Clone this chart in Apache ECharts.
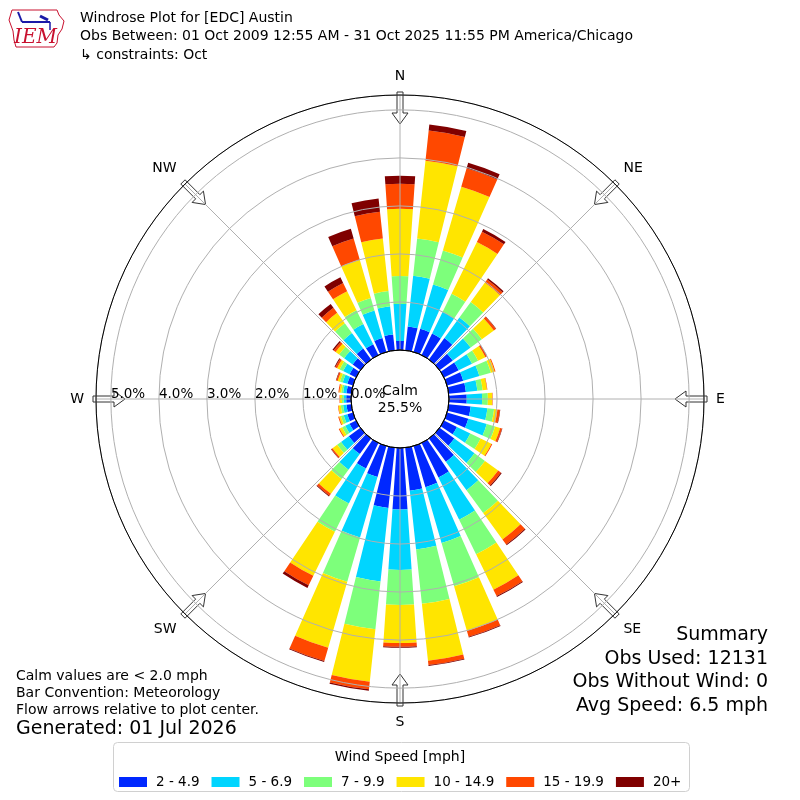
<!DOCTYPE html>
<html>
<head>
<meta charset="utf-8">
<script src="https://cdn.jsdelivr.net/npm/echarts@6/dist/echarts.min.js"></script>
<style>
  html, body { margin: 0; background: #fff; }
  #chart { width: 800px; height: 800px; }
</style>
</head>
<body>
<div id="chart"></div>
<script>
// Wind directions (deg, clockwise from north), 10 degree bins
const directions = [0, 10, 20, 30, 40, 50, 60, 70, 80, 90, 100, 110, 120, 130, 140, 150, 160, 170,
  180, 190, 200, 210, 220, 230, 240, 250, 260, 270, 280, 290, 300, 310, 320, 330, 340, 350];

const speedBins = ["2 - 4.9", "5 - 6.9", "7 - 9.9", "10 - 14.9", "15 - 19.9", "20+"];
const binColors = ["#0028ff", "#00d5ff", "#7dff7b", "#ffe500", "#ff4800", "#800000"];

// percent of observations per direction, one array per speed bin
const pct2to5 = [0.19, 0.50, 0.50, 0.50, 0.55, 0.34, 0.34, 0.35, 0.36, 0.37, 0.46, 0.46, 0.30, 0.38, 0.60, 0.80, 0.89, 0.90,
  1.28, 1.26, 0.67, 0.59, 0.40, 0.30, 0.15, 0.12, 0.10, 0.10, 0.10, 0.12, 0.15, 0.20, 0.28, 0.25, 0.30, 0.33];
const pct5to7 = [0.77, 1.06, 0.96, 0.50, 0.53, 0.46, 0.31, 0.35, 0.24, 0.32, 0.35, 0.40, 0.31, 0.52, 0.73, 0.98, 1.21, 1.23,
  1.26, 1.54, 1.31, 0.81, 0.40, 0.20, 0.10, 0.08, 0.07, 0.05, 0.07, 0.10, 0.15, 0.22, 0.40, 0.47, 0.60, 0.59];
const pct7to10 = [0.58, 0.78, 0.74, 0.42, 0.40, 0.29, 0.14, 0.25, 0.11, 0.12, 0.14, 0.18, 0.24, 0.27, 0.59, 0.80, 0.94, 1.14,
  0.73, 1.00, 0.96, 0.66, 0.24, 0.10, 0.07, 0.06, 0.05, 0.04, 0.04, 0.06, 0.08, 0.13, 0.25, 0.32, 0.27, 0.32];
const pct10to15 = [1.40, 1.63, 1.38, 1.20, 0.50, 0.31, 0.17, 0.08, 0.09, 0.09, 0.07, 0.11, 0.25, 0.34, 0.68, 0.82, 0.96, 1.19,
  0.79, 1.10, 1.43, 1.02, 0.38, 0.12, 0.06, 0.04, 0.05, 0.04, 0.04, 0.05, 0.06, 0.09, 0.27, 0.44, 0.83, 1.10];
const pct15to20 = [0.52, 0.63, 0.40, 0.24, 0.08, 0.05, 0.03, 0.02, 0.01, 0.01, 0.05, 0.04, 0.02, 0.07, 0.13, 0.15, 0.13, 0.09,
  0.08, 0.16, 0.29, 0.22, 0.05, 0.03, 0.02, 0.02, 0.01, 0.01, 0.02, 0.03, 0.04, 0.05, 0.13, 0.19, 0.46, 0.56];
const pct20up = [0.17, 0.13, 0.12, 0.06, 0.03, 0.01, 0.01, 0.00, 0.00, 0.00, 0.01, 0.01, 0.00, 0.02, 0.02, 0.02, 0.02, 0.02,
  0.02, 0.03, 0.02, 0.06, 0.02, 0.01, 0.00, 0.00, 0.00, 0.00, 0.00, 0.01, 0.02, 0.03, 0.10, 0.13, 0.21, 0.28];

// compass labels, clockwise starting from west (radius axis sits on the W spoke)
const compassLabels = ["W", "NW", "N", "NE", "E", "SE", "S", "SW"];
const radialMax = 5.31;

const titleLines = [
  "Windrose Plot for [EDC] Austin",
  "Obs Between: 01 Oct 2009 12:55 AM - 31 Oct 2025 11:55 PM America/Chicago",
  "\u21B3 constraints: Oct",
];
const noteLines = ["Calm values are < 2.0 mph", "Bar Convention: Meteorology", "Flow arrows relative to plot center."];
const summaryLines = ["Summary", "Obs Used: 12131", "Obs Without Wind: 0", "Avg Speed: 6.5 mph"];

const FONT = "DejaVu Sans";
const cx = 400, cy = 399, rIn = 49, rOut = 304;

const binData = [pct2to5, pct5to7, pct7to10, pct10to15, pct15to20, pct20up];

// hollow flow arrows on the outer ring, pointing at the centre
function arrowPoints(deg) {
  const a = deg * Math.PI / 180;
  const ux = Math.sin(a), uy = -Math.cos(a), vx = Math.cos(a), vy = Math.sin(a);
  const pts = [[307, -3], [286, -3], [286, -8], [275, 0], [286, 8], [286, 3], [307, 3]];
  return pts.map(([r, w]) => [cx + r * ux + w * vx, cy + r * uy + w * vy]);
}

const graphics = [];
[0, 45, 90, 135, 180, 225, 270, 315].forEach((d) => {
  graphics.push({ type: "polygon", z: 3, shape: { points: arrowPoints(d) },
    style: { fill: "#fff", stroke: "#333", lineWidth: 1 } });
});
graphics.push({ type: "circle", z: 8, shape: { cx, cy, r: rIn },
  style: { fill: null, stroke: "#000", lineWidth: 1 } });
graphics.push({ type: "text", z: 9, style: { x: cx, y: 391, text: "Calm", font: `14px "${FONT}"`,
  fill: "#000", align: "center", verticalAlign: "middle" } });
graphics.push({ type: "text", z: 9, style: { x: cx, y: 408, text: "25.5%", font: `14px "${FONT}"`,
  fill: "#000", align: "center", verticalAlign: "middle" } });

titleLines.forEach((t, i) => {
  graphics.push({ type: "text", style: { x: 80, y: 18 + i * 18.5, text: t, font: `14px "${FONT}"`,
    fill: "#000", verticalAlign: "middle" } });
});
noteLines.forEach((t, i) => {
  graphics.push({ type: "text", style: { x: 16, y: 676 + i * 17, text: t, font: `14px "${FONT}"`,
    fill: "#000", verticalAlign: "middle" } });
});
graphics.push({ type: "text", style: { x: 16, y: 729, text: "Generated: 01 Jul 2026", font: `19px "${FONT}"`,
  fill: "#000", verticalAlign: "middle" } });
summaryLines.forEach((t, i) => {
  graphics.push({ type: "text", style: { x: 768, y: 635 + i * 23.7, text: t, font: `19px "${FONT}"`,
    fill: "#000", align: "right", verticalAlign: "middle" } });
});

// legend frame + title
graphics.push({ type: "rect", z: 0, shape: { x: 113.5, y: 742.5, width: 576, height: 49, r: 4 },
  style: { fill: "#fff", stroke: "#d0d0d0", lineWidth: 1 } });
graphics.push({ type: "text", z: 1, style: { x: 400, y: 757, text: "Wind Speed [mph]", font: `14px "${FONT}"`,
  fill: "#000", align: "center", verticalAlign: "middle" } });

// IEM logo (rough)
graphics.push({ type: "polyline", shape: { points: [[12, 10], [57, 10], [59, 15], [64, 21], [62, 29], [58, 35],
  [57, 43], [54, 47], [16, 47], [14, 40], [13, 31], [9, 20], [12, 10]] },
  style: { stroke: "#c8102e", fill: "#fff", lineWidth: 1 } });
graphics.push({ type: "line", shape: { x1: 22, y1: 22, x2: 50, y2: 22 }, style: { stroke: "#1a1aa8", lineWidth: 2 } });
graphics.push({ type: "line", shape: { x1: 22, y1: 22, x2: 18, y2: 12 }, style: { stroke: "#1a1aa8", lineWidth: 2 } });
graphics.push({ type: "line", shape: { x1: 40, y1: 16, x2: 48, y2: 20 }, style: { stroke: "#1a1aa8", lineWidth: 3 } });
graphics.push({ type: "line", shape: { x1: 50, y1: 22, x2: 50, y2: 30 }, style: { stroke: "#1a1aa8", lineWidth: 1.5 } });
graphics.push({ type: "text", style: { x: 14, y: 38, text: "IEM", font: `italic 20px "DejaVu Serif"`,
  fill: "#c8102e", verticalAlign: "middle" } });

const chart = echarts.init(document.getElementById("chart"), null, { renderer: "canvas" });

chart.setOption({
  animation: false,
  backgroundColor: "#fff",
  textStyle: { fontFamily: FONT },
  polar: [
    { center: [cx, cy], radius: [rIn, rOut] },
    { center: [cx, cy], radius: [rIn, rOut] },
  ],
  angleAxis: [
    {
      polarIndex: 0, type: "category", data: directions, startAngle: 95, clockwise: true,
      axisLine: { show: false }, axisTick: { show: false }, axisLabel: { show: false }, splitLine: { show: false },
    },
    {
      polarIndex: 1, type: "value", min: 0, max: 360, interval: 45, startAngle: 180, clockwise: true, z: 7,
      axisLine: { show: true, lineStyle: { color: "#000", width: 1 } },
      axisTick: { show: false },
      splitLine: { show: true, lineStyle: { color: "#b0b0b0", width: 1 } },
      axisLabel: { show: true, margin: 12, color: "#000", fontSize: 14, fontFamily: FONT,
        formatter: (v) => compassLabels[Math.round(v / 45) % 8] },
    },
  ],
  radiusAxis: [
    { polarIndex: 0, type: "value", min: 0, max: radialMax,
      axisLine: { show: false }, axisTick: { show: false }, axisLabel: { show: false }, splitLine: { show: false } },
    {
      polarIndex: 1, type: "value", min: 0, max: radialMax, interval: 1, z: 6,
      axisLine: { show: false }, axisTick: { show: false },
      splitLine: { show: true, lineStyle: { color: "#b0b0b0", width: 1 } },
      axisLabel: { show: true, color: "#000", fontSize: 13.5, fontFamily: FONT, margin: 2,
        align: "left", verticalAlign: "bottom",
        formatter: (v) => (Math.abs(v - Math.round(v)) < 1e-6 ? v.toFixed(1) + "%" : "") },
    },
  ],
  legend: {
    left: 119, top: 775, padding: 0, icon: "rect", itemWidth: 28, itemHeight: 10, itemGap: 12,
    data: speedBins, selectedMode: false, z: 10,
    textStyle: { fontSize: 13.5, fontFamily: FONT, color: "#000", padding: [0, 0, 0, 4] },
  },
  series: speedBins.map((name, i) => ({
    name, type: "bar", coordinateSystem: "polar", polarIndex: 0, stack: "rose",
    barCategoryGap: "22%", data: binData[i], itemStyle: { color: binColors[i] },
  })),
  graphic: graphics,
});
</script>
</body>
</html>
